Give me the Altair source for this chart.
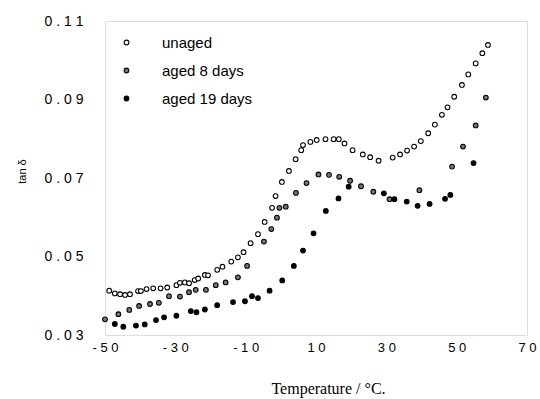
import altair as alt
import pandas as pd

series_names = ["unaged", "aged 8 days", "aged 19 days"]

unaged_t = [-48.8,-47.2,-45.7,-44.3,-42.9,-40.6,-39.8,-38.2,-36.3,-34.2,
            -32.3,-29.7,-28.7,-27.3,-26.1,-24.5,-23.5,-21.6,-20.7,-18.1,
            -16.6,-14.1,-12.2,-10.6,-8.6,-6.5,-4.6,-2.5,-1.5,0.3,
            2.3,4.2,5.8,6.3,8.4,10.2,12.7,15.0,16.5,18.1,
            20.4,23.3,25.4,27.8,31.8,33.9,35.9,37.9,39.8,41.9,
            43.8,45.8,47.4,49.3,51.5,53.3,55.4,57.3,58.9]
unaged_v = [0.0413,0.0406,0.0404,0.0402,0.0404,0.0412,0.0412,0.0417,0.0419,0.0419,
            0.0421,0.0427,0.0433,0.0434,0.0432,0.0440,0.0444,0.0453,0.0452,0.0466,
            0.0474,0.0487,0.0498,0.0511,0.0534,0.0557,0.0588,0.0624,0.0654,0.0690,
            0.0718,0.0748,0.0771,0.0784,0.0792,0.0797,0.0799,0.0799,0.0799,0.0788,
            0.0771,0.0760,0.0753,0.0744,0.0752,0.0760,0.0770,0.0780,0.0794,0.0814,
            0.0836,0.0861,0.0880,0.0907,0.0937,0.0964,0.0992,0.1018,0.1039]

aged8_t = [-50.0,-46.2,-43.1,-40.3,-37.2,-34.7,-31.8,-28.7,-26.1,-24.2,
           -21.3,-18.5,-15.7,-12.2,-9.6,-4.8,-2.7,-1.1,-0.4,1.4,
           4.3,7.3,10.7,13.7,16.6,19.7,22.8,26.3,30.9,39.4,
           48.7,51.8,55.4,58.3]
aged8_v = [0.0340,0.0353,0.0364,0.0374,0.0379,0.0382,0.0399,0.0398,0.0409,0.0415,
           0.0415,0.0427,0.0434,0.0447,0.0476,0.0538,0.0570,0.0599,0.0624,0.0627,
           0.0662,0.0687,0.0709,0.0708,0.0703,0.0693,0.0679,0.0665,0.0646,0.0669,
           0.0729,0.0780,0.0834,0.0905]

aged19_t = [-47.2,-44.8,-41.2,-38.7,-35.5,-33.2,-29.7,-25.6,-24.0,-21.6,
            -18.1,-13.6,-10.2,-8.2,-6.5,-3.2,0.4,3.7,6.3,9.3,
            12.8,16.4,19.3,29.3,32.3,35.8,38.9,42.3,46.7,48.2,54.8]
aged19_v = [0.0328,0.0321,0.0324,0.0327,0.0338,0.0345,0.0349,0.0361,0.0358,0.0365,
            0.0376,0.0384,0.0386,0.0399,0.0394,0.0413,0.0439,0.0476,0.0515,0.0559,
            0.0616,0.0648,0.0678,0.0661,0.0646,0.0640,0.0629,0.0634,0.0647,0.0657,0.0738]

x_ticks = [-50, -30, -10, 10, 30, 50, 70]
y_ticks = [0.03, 0.05, 0.07, 0.09, 0.11]

rows = []
for name, ts, vs in [(series_names[0], unaged_t, unaged_v),
                     (series_names[1], aged8_t, aged8_v),
                     (series_names[2], aged19_t, aged19_v)]:
    for t, v in zip(ts, vs):
        rows.append({"T": t, "tan": v, "series": name})
df = pd.DataFrame(rows)

legend_cfg = alt.Legend(title=None, orient="none", legendX=14, legendY=14,
                        labelFont="Liberation Sans", labelFontSize=15,
                        labelColor="black", labelOffset=28, rowPadding=12,
                        symbolStrokeWidth=1.1, padding=0)

chart = alt.Chart(df).mark_point(filled=False, strokeWidth=1.1, opacity=1).encode(
    x=alt.X("T:Q", scale=alt.Scale(domain=[-50, 70], nice=False, zero=False),
            axis=alt.Axis(values=x_ticks, title="Temperature / °C.",
                          labelExpr="join(split(toString(datum.value), ''), ' ')",
                          labelFont="Liberation Sans", labelFontSize=13, labelColor="black",
                          labelPadding=6, labelFlush=False, labelOverlap=False,
                          ticks=False, domain=False, grid=False,
                          titleFont="Liberation Serif", titleFontSize=16, titleFontWeight="normal",
                          titleColor="black", titleX=223, titleY=58, titleBaseline="alphabetic")),
    y=alt.Y("tan:Q", scale=alt.Scale(domain=[0.03, 0.11], nice=False, zero=False),
            axis=alt.Axis(values=y_ticks, title="tan δ",
                          labelExpr="join(split(format(datum.value, '.2f'), ''), ' ')",
                          labelFont="Liberation Sans", labelFontSize=14, labelColor="black",
                          labelPadding=22, labelFlush=False, labelOverlap=False,
                          ticks=False, domain=False, grid=False,
                          titleFont="Liberation Sans", titleFontSize=11, titleFontWeight="normal",
                          titleColor="black", titleX=-83, titleY=150, titleAngle=270,
                          titleBaseline="middle", titleAlign="center")),
    fill=alt.Fill("series:N", sort=series_names,
                  scale=alt.Scale(domain=series_names, range=["white", "#777777", "black"]),
                  legend=legend_cfg),
    stroke=alt.Stroke("series:N", sort=series_names,
                      scale=alt.Scale(domain=series_names, range=["black", "black", "black"]),
                      legend=legend_cfg),
    size=alt.Size("series:N", sort=series_names,
                  scale=alt.Scale(domain=series_names, range=[22, 22, 6]),
                  legend=legend_cfg),
).properties(
    width=422, height=314,
    autosize=alt.AutoSizeParams(type="none"),
    padding={"left": 105, "top": 21, "right": 13, "bottom": 64},
).configure_view(stroke="black", strokeWidth=1).configure(background="white")

chart.save("out.html", embed_options={"renderer": "svg", "actions": False})
